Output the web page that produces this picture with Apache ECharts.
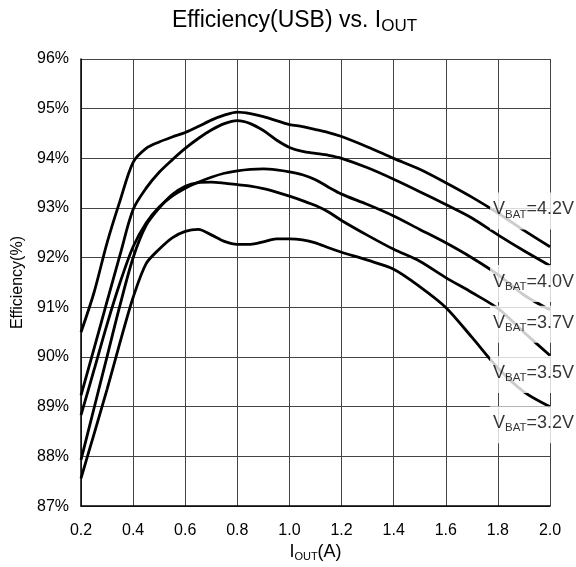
<!DOCTYPE html>
<html>
<head>
<meta charset="utf-8">
<script src="https://cdn.jsdelivr.net/npm/echarts@6/dist/echarts.min.js"></script>
<style>
  html, body { margin: 0; padding: 0; background: #fff; }
  #chart { width: 576px; height: 567px; }
</style>
</head>
<body>
<div id="chart"></div>
<script>
// ---- data ----
const iout = [0.2,0.25,0.3,0.35,0.4,0.45,0.5,0.55,0.6,0.65,0.7,0.75,0.8,0.85,0.9,0.95,1.0,1.05,1.1,1.15,1.2,1.3,1.4,1.5,1.6,1.7,1.8,1.9,2.0];
const eff42 = [90.5,91.3,92.3,93.15,93.92,94.2,94.33,94.43,94.52,94.64,94.77,94.87,94.93,94.9,94.84,94.76,94.68,94.64,94.58,94.52,94.44,94.23,94.0,93.78,93.51,93.22,92.9,92.55,92.22];
const eff40 = [89.23,90.17,91.12,92.06,92.97,93.4,93.72,93.97,94.2,94.4,94.57,94.7,94.76,94.7,94.56,94.37,94.22,94.14,94.1,94.06,94.0,93.81,93.58,93.33,93.07,92.8,92.46,92.14,91.84];
const eff37 = [88.83,89.74,90.66,91.5,92.22,92.7,93.02,93.24,93.4,93.52,93.62,93.7,93.75,93.78,93.79,93.77,93.73,93.67,93.57,93.42,93.28,93.07,92.84,92.57,92.3,92.0,91.66,91.25,90.95];
const eff35 = [87.93,88.97,90.01,91.05,92.0,92.65,93.0,93.27,93.44,93.51,93.52,93.5,93.47,93.44,93.39,93.32,93.24,93.15,93.05,92.92,92.75,92.45,92.17,91.93,91.6,91.3,90.98,90.5,90.03];
const eff32 = [87.56,88.45,89.35,90.3,91.2,91.88,92.17,92.4,92.53,92.57,92.46,92.33,92.27,92.27,92.32,92.38,92.38,92.36,92.3,92.2,92.11,91.95,91.77,91.42,91.0,90.4,89.78,89.3,89.0];
const seriesNames = ['4.2V','4.0V','3.7V','3.5V','3.2V'];
const xTicks = ['0.2','0.4','0.6','0.8','1.0','1.2','1.4','1.6','1.8','2.0'];
const yTicks = ['87%','88%','89%','90%','91%','92%','93%','94%','95%','96%'];
const titleMain = 'Efficiency(USB) vs. I';
const titleSub = 'OUT';
const yName = 'Efficiency(%)';
// label anchors (annotation placement in data space)
const labelAnchorX = 1.77;
const labelAnchorY = [92.94, 91.48, 90.66, 89.65, 88.64];

const allEff = [eff42, eff40, eff37, eff35, eff32];

const FONT = 'Liberation Sans, Arial, sans-serif';

const lineSeries = allEff.map((arr, k) => ({
  name: seriesNames[k],
  type: 'line',
  data: iout.map((x, i) => [x, arr[i]]),
  showSymbol: false,
  smooth: 0.3,
  lineStyle: { color: '#000', width: 2.8 },
  z: 3,
  silent: true
}));

const labelSeries = {
  type: 'scatter',
  symbolSize: 0,
  z: 10,
  silent: true,
  data: seriesNames.map((n, k) => ({
    value: [labelAnchorX, labelAnchorY[k]],
    label: { formatter: '{v|V}{s|BAT}{v|=' + n + '}' }
  })),
  label: {
    show: true,
    position: 'right',
    distance: 0,
    backgroundColor: '#fff',
    padding: [6, 8, 9, 3],
    rich: {
      v: { fontSize: 18, lineHeight: 22, fontFamily: FONT, color: '#000' },
      s: { fontSize: 11.5, lineHeight: 8, verticalAlign: 'bottom', fontFamily: FONT, color: '#000' }
    }
  }
};

const chart = echarts.init(document.getElementById('chart'), null, { renderer: 'canvas' });
chart.setOption({
  animation: false,
  backgroundColor: '#fff',
  title: {
    text: '{a|' + titleMain + '}{b|' + titleSub + '}',
    left: 172,
    top: 7,
    padding: 0,
    textStyle: {
      fontWeight: 'normal',
      rich: {
        a: { fontSize: 23, lineHeight: 28, fontWeight: 'normal', fontFamily: FONT, color: '#000' },
        b: { fontSize: 17, lineHeight: 17, fontWeight: 'normal', verticalAlign: 'bottom', fontFamily: FONT, color: '#000' }
      }
    }
  },
  grid: { left: 81, right: 26, top: 59, bottom: 59 },
  xAxis: {
    type: 'value',
    min: 0.2, max: 2.0, interval: 0.2,
    name: '{a|I}{b|OUT}{a|(A)}',
    nameLocation: 'middle',
    nameGap: 24,
    nameTextStyle: {
      rich: {
        a: { fontSize: 18, lineHeight: 20, fontFamily: FONT, color: '#000' },
        b: { fontSize: 11, lineHeight: 11, verticalAlign: 'bottom', fontFamily: FONT, color: '#000' }
      }
    },
    axisLine: { show: true, lineStyle: { color: '#000', width: 1.5 } },
    axisTick: { show: false },
    axisLabel: {
      margin: 16, fontSize: 16, fontFamily: FONT, color: '#000',
      formatter: v => xTicks[Math.round((v - 0.2) / 0.2)]
    },
    splitLine: { show: true, lineStyle: { color: '#444', width: 1 } }
  },
  yAxis: {
    type: 'value',
    min: 87, max: 96, interval: 1,
    name: yName,
    nameLocation: 'middle',
    nameGap: 55,
    nameTextStyle: { fontSize: 16, fontFamily: FONT, color: '#000' },
    axisLine: { show: true, lineStyle: { color: '#000', width: 1.5 } },
    axisTick: { show: false },
    axisLabel: {
      margin: 12, fontSize: 16, fontFamily: FONT, color: '#000',
      formatter: v => yTicks[Math.round(v - 87)]
    },
    splitLine: { show: true, lineStyle: { color: '#444', width: 1 } }
  },
  series: lineSeries.concat([labelSeries])
});
</script>
</body>
</html>
